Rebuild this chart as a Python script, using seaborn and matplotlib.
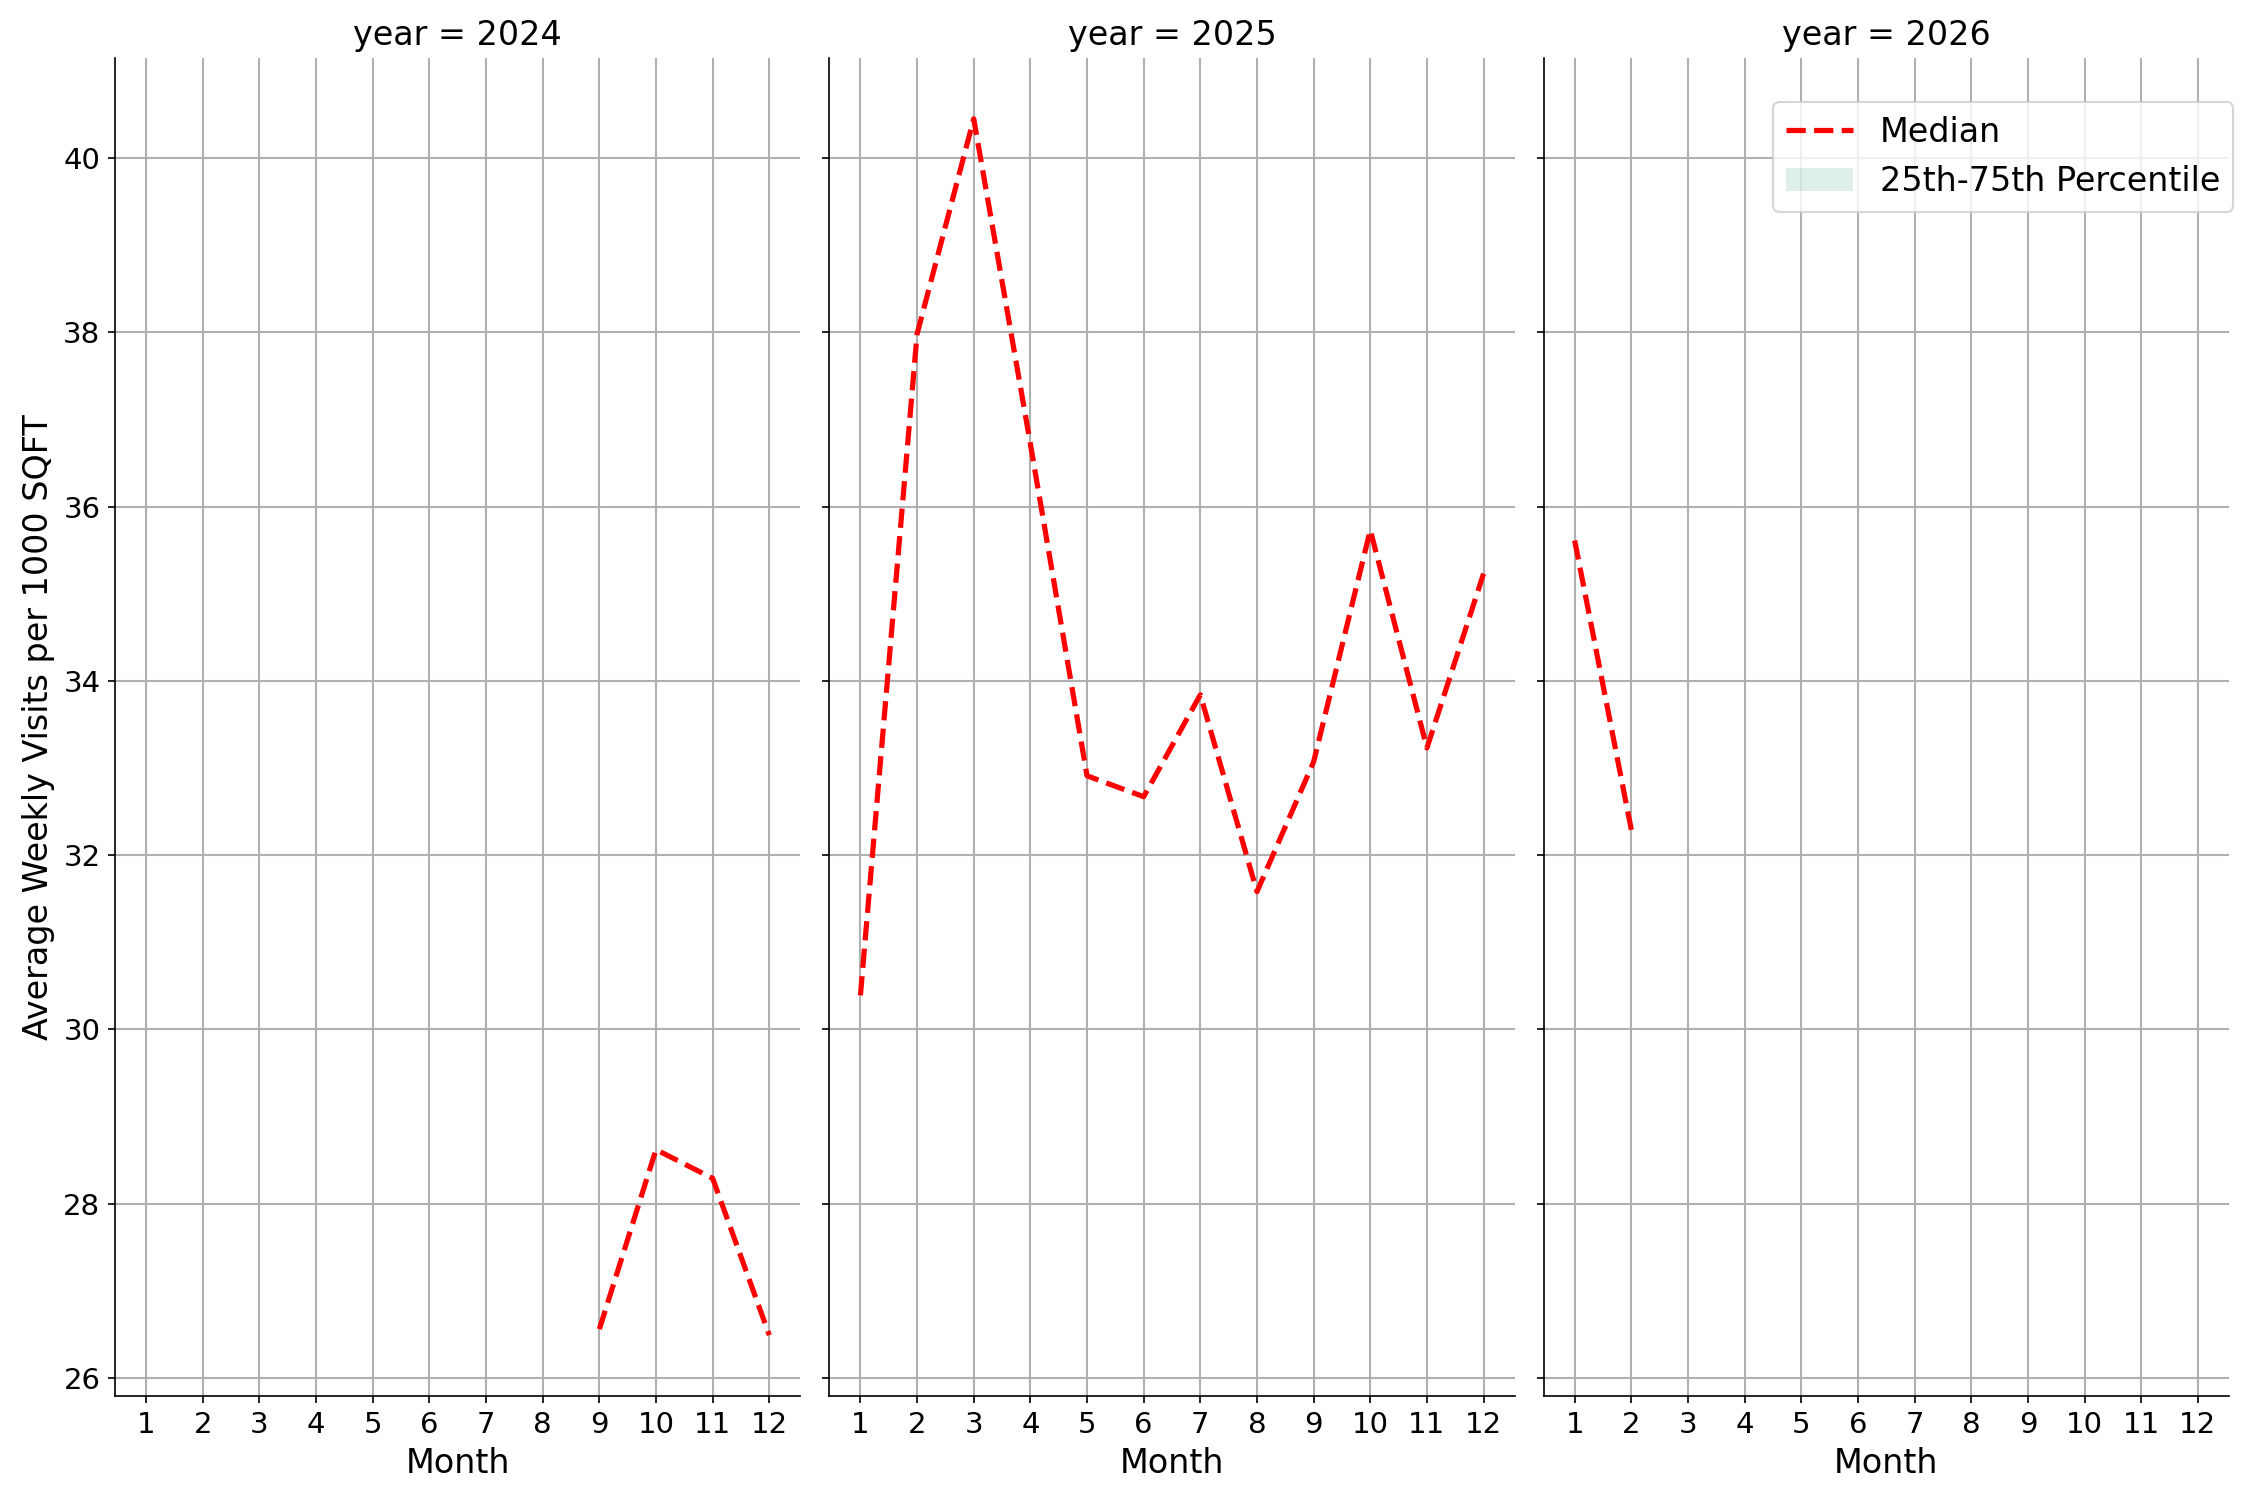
import pandas as pd
import numpy as np
import matplotlib
matplotlib.use('Agg')
import matplotlib.pyplot as plt
import seaborn as sns

# 每年的月份与中位数
months_2024 = [9, 10, 11, 12]
visits_2024 = [26.56, 28.62, 28.29, 26.49]

months_2025 = [1, 2, 3, 4, 5, 6, 7, 8, 9, 10, 11, 12]
visits_2025 = [30.39, 37.98, 40.45, 36.72, 32.91, 32.67, 33.84, 31.58, 33.07, 35.73, 33.23, 35.23]

months_2026 = [1, 2]
visits_2026 = [35.61, 32.29]

years = [2024, 2025, 2026]

df = pd.concat([
    pd.DataFrame({'year': 2024, 'month': months_2024, 'visits': visits_2024}),
    pd.DataFrame({'year': 2025, 'month': months_2025, 'visits': visits_2025}),
    pd.DataFrame({'year': 2026, 'month': months_2026, 'visits': visits_2026}),
], ignore_index=True)

# 按年、月求分位数
stats = (df.groupby(['year', 'month'])['visits']
           .quantile([0.25, 0.5, 0.75])
           .unstack()
           .reset_index()
           .rename(columns={0.25: 'q25', 0.5: 'median', 0.75: 'q75'}))


def draw_band(data, **kws):
    ax = plt.gca()
    ax.fill_between(data['month'], data['q25'], data['q75'],
                    color='#5fb4a0', alpha=0.2, linewidth=0,
                    label='25th-75th Percentile')
    sns.lineplot(data=data, x='month', y='median', ax=ax,
                 color='red', linestyle='--', linewidth=2.5, label='Median')
    ax.grid(True, color='#b0b0b0', linewidth=1)
    ax.set_axisbelow(True)


g = sns.FacetGrid(stats, col='year', col_order=years, height=10, aspect=0.5,
                  sharey=True, sharex=True)
g.map_dataframe(draw_band)
g.figure.set_size_inches(15, 10)

g.set_titles('year = {col_name}', size=16)
g.set_axis_labels('Month', 'Average Weekly Visits per 1000 SQFT', fontsize=16)
for ax in g.axes.flat:
    ax.set_xticks(range(1, 13))
    ax.tick_params(labelsize=14)
    if ax.get_legend() is not None:
        ax.get_legend().remove()

# 图例放在右上角
handles, labels = g.axes.flat[-1].get_legend_handles_labels()
order = [labels.index('Median'), labels.index('25th-75th Percentile')]
g.figure.legend([handles[i] for i in order], [labels[i] for i in order],
                loc='upper right', bbox_to_anchor=(1.0, 0.943), fontsize=16)

g.figure.subplots_adjust(left=115 / 2250, right=2229 / 2250,
                         bottom=1 - 1396 / 1500, top=1 - 58 / 1500, wspace=0.042)

plt.savefig('out.png', dpi=150)
